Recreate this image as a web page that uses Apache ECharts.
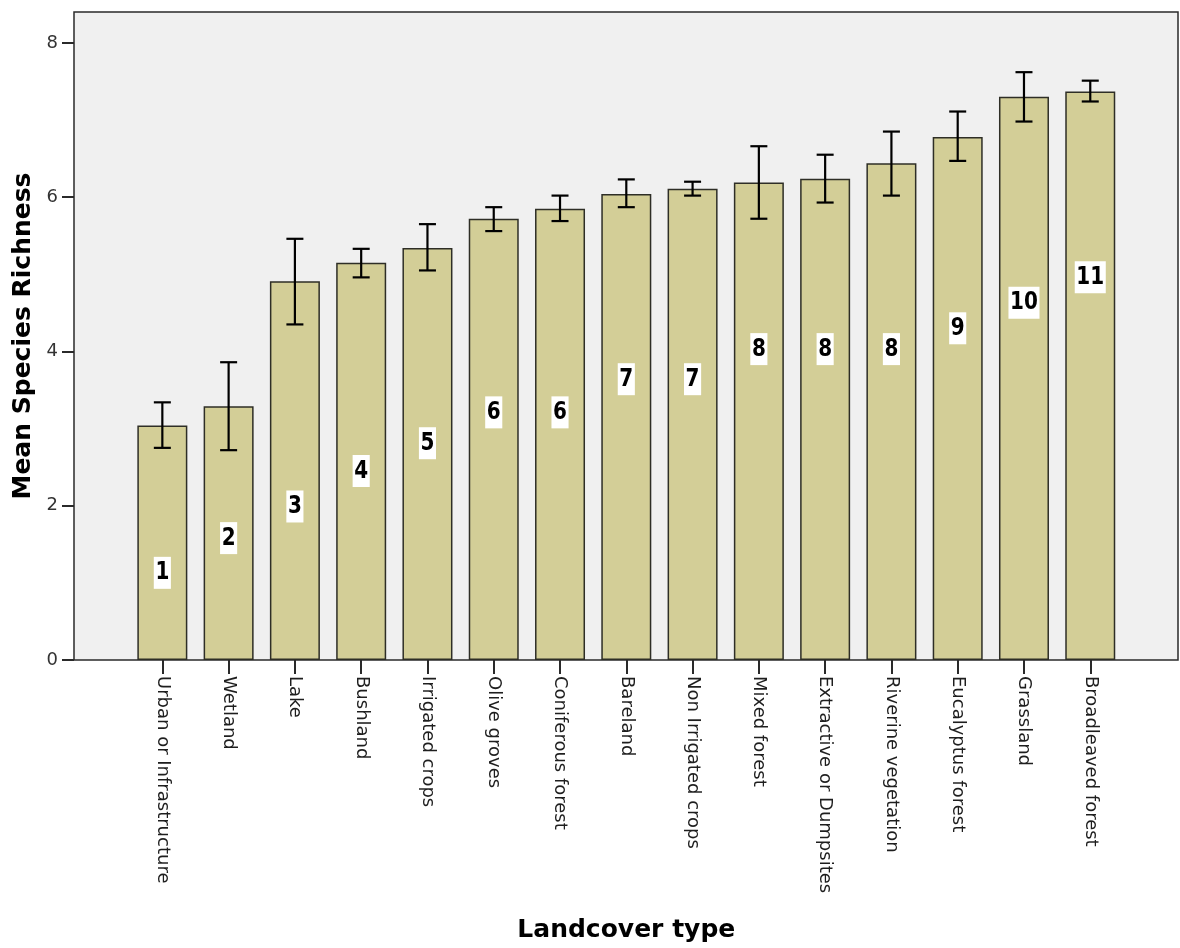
<!DOCTYPE html>
<html>
<head>
<meta charset="utf-8">
<title>Mean Species Richness by Landcover type</title>
<script src="https://cdn.jsdelivr.net/npm/echarts@6/dist/echarts.min.js"></script>
<style>
  html, body { margin: 0; padding: 0; background: #ffffff; }
  #chart { width: 1180px; height: 948px; }
</style>
</head>
<body>
<div id="chart"></div>
<script>
// Landcover classes, ordered by mean richness
const categories = [
  'Urban or Infrastructure', 'Wetland', 'Lake', 'Bushland', 'Irrigated crops',
  'Olive groves', 'Coniferous forest', 'Bareland', 'Non Irrigated crops',
  'Mixed forest', 'Extractive or Dumpsites', 'Riverine vegetation',
  'Eucalyptus forest', 'Grassland', 'Broadleaved forest'
];

// Mean species richness per class
const meanRichness = [3.04, 3.29, 4.91, 5.15, 5.34, 5.72, 5.85, 6.04, 6.11, 6.19, 6.24, 6.44, 6.78, 7.30, 7.37];

// Error bar limits
const errLower = [2.75, 2.72, 4.35, 4.96, 5.05, 5.56, 5.69, 5.87, 6.02, 5.72, 5.93, 6.02, 6.47, 6.98, 7.24];
const errUpper = [3.34, 3.86, 5.46, 5.33, 5.65, 5.87, 6.02, 6.23, 6.20, 6.66, 6.55, 6.85, 7.11, 7.62, 7.51];

// Rank annotations and the richness level each one sits at
const rankLabels = ['1', '2', '3', '4', '5', '6', '6', '7', '7', '8', '8', '8', '9', '10', '11'];
const rankLevel = [1.13, 1.58, 1.99, 2.45, 2.81, 3.21, 3.21, 3.64, 3.64, 4.03, 4.03, 4.03, 4.30, 4.63, 4.96];

// Y axis ticks
const yTicks = [0, 2, 4, 6, 8];

const errorData = categories.map((c, i) => [i, errLower[i], errUpper[i]]);
const rankData = categories.map((c, i) => [i, rankLevel[i], rankLabels[i]]);

const chart = echarts.init(document.getElementById('chart'), null, { renderer: 'canvas' });

const option = {
  animation: false,
  backgroundColor: '#ffffff',
  grid: [
    // plot frame with its grey panel
    { left: 74, right: 2, top: 12, bottom: 288, show: true,
      backgroundColor: '#f0f0f0', borderColor: '#2a2a2a', borderWidth: 1.5 },
    // data area, inset from the frame on both sides
    { left: 129.2, right: 56.6, top: 12, bottom: 288, show: false }
  ],
  xAxis: [
    { gridIndex: 0, type: 'value', show: false, min: 0, max: 1 },
    {
      gridIndex: 1,
      type: 'category',
      data: categories,
      boundaryGap: true,
      axisLine: { show: false },
      axisTick: { show: true, alignWithLabel: true, length: 14,
        lineStyle: { color: '#2a2a2a', width: 2 } },
      axisLabel: { interval: 0, rotate: -90, margin: 16,
        fontFamily: 'DejaVu Sans', fontSize: 18, color: '#1e1e1e' },
      name: 'Landcover type',
      nameLocation: 'middle',
      nameGap: 258,
      nameTextStyle: { fontFamily: 'DejaVu Sans', fontWeight: 'bold', fontSize: 25, color: '#000' }
    }
  ],
  yAxis: [
    { gridIndex: 0, type: 'value', show: false, min: 0, max: 1 },
    {
      gridIndex: 1,
      type: 'value',
      min: 0,
      max: 8.4,
      offset: 55.2,
      splitLine: { show: false },
      axisLine: { show: false },
      axisTick: { show: true, length: 12, customValues: yTicks,
        lineStyle: { color: '#2a2a2a', width: 2 } },
      axisLabel: { customValues: yTicks, margin: 16,
        fontFamily: 'DejaVu Sans', fontSize: 18, color: '#333' },
      name: 'Mean Species Richness',
      nameLocation: 'middle',
      nameGap: 36,
      nameTextStyle: { fontFamily: 'DejaVu Sans', fontWeight: 'bold', fontSize: 25, color: '#000' }
    }
  ],
  series: [
    {
      type: 'bar',
      xAxisIndex: 1,
      yAxisIndex: 1,
      data: meanRichness,
      barWidth: 50,
      itemStyle: { color: '#d3ce97', borderColor: '#2e2e26', borderWidth: 1.5 },
      z: 2
    },
    {
      type: 'custom',
      xAxisIndex: 1,
      yAxisIndex: 1,
      data: errorData,
      encode: { x: 0, y: [1, 2] },
      z: 4,
      renderItem: function (params, api) {
        const idx = api.value(0);
        const lo = api.coord([idx, api.value(1)]);
        const hi = api.coord([idx, api.value(2)]);
        const half = 8.5;
        const style = { stroke: '#000', lineWidth: 2.2 };
        return {
          type: 'group',
          children: [
            { type: 'line', shape: { x1: lo[0], y1: lo[1], x2: hi[0], y2: hi[1] }, style: style },
            { type: 'line', shape: { x1: hi[0] - half, y1: hi[1], x2: hi[0] + half, y2: hi[1] }, style: style },
            { type: 'line', shape: { x1: lo[0] - half, y1: lo[1], x2: lo[0] + half, y2: lo[1] }, style: style }
          ]
        };
      }
    },
    {
      type: 'custom',
      xAxisIndex: 1,
      yAxisIndex: 1,
      data: rankData,
      encode: { x: 0, y: 1 },
      z: 5,
      renderItem: function (params, api) {
        const idx = api.value(0);
        const p = api.coord([idx, api.value(1)]);
        return {
          type: 'text',
          x: p[0],
          y: p[1],
          scaleX: 0.8,
          style: {
            text: rankLabels[params.dataIndex],
            fill: '#000',
            font: 'bold 25px "DejaVu Sans", sans-serif',
            align: 'center',
            verticalAlign: 'middle',
            backgroundColor: '#ffffff',
            padding: [4, 2, 3, 2]
          }
        };
      }
    }
  ]
};

chart.setOption(option);
</script>
</body>
</html>
